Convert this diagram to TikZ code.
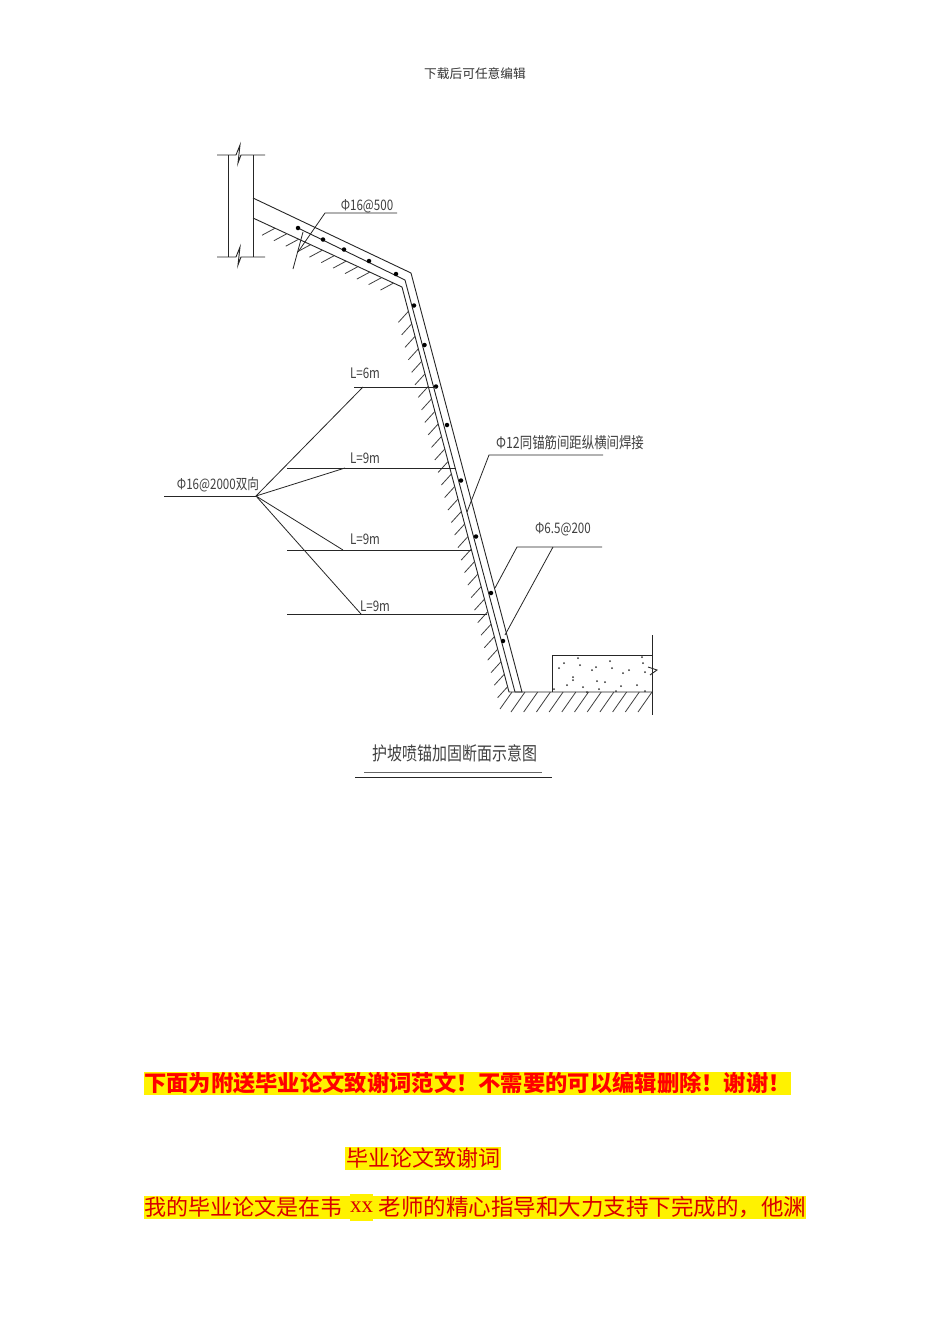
\documentclass[tikz,border=0pt]{standalone}
\usepackage{fontspec}
\setmainfont{Liberation Sans}
\newfontfamily\cjk{Noto Sans CJK SC}
\newfontfamily\latinserif{Liberation Serif}
\newfontfamily\cadfont[FakeStretch=0.8]{Noto Sans CJK SC}
\usetikzlibrary{calc}
\tikzstyle{cadline}=[draw=black!85,line width=0.9pt]
\tikzstyle{leader}=[draw=black!85,line width=0.8pt]
\tikzstyle{hatch}=[draw=black!75,line width=0.8pt]
\tikzstyle{rebar}=[circle,fill=black,inner sep=0pt,minimum size=4.5pt]
\tikzstyle{speck}=[circle,fill=black!80,inner sep=0pt,minimum size=2pt]
\tikzstyle{cadtext}=[text=black!75,inner sep=0pt,font=\cadfont\fontsize{14.5}{15}\selectfont]
\tikzstyle{redline}=[fill=yellow,text=red!85!black,inner sep=0pt,minimum height=23pt,font=\cjk\fontsize{22}{22}\selectfont]
\begin{document}
\begin{tikzpicture}[x=1pt,y=-1pt]
	\useasboundingbox[fill=white] (0,0) rectangle (950,1344);
	\node at (475,74) [inner sep=0pt,text=black!80,font=\cjk\fontsize{12.7}{13}\selectfont] (header) {下载后可任意编辑};
	% wall
	\draw[cadline] (217,155) -- (236,155) -- (240,145) -- (238,163) -- (241,155) -- (265,155);
	\draw[cadline] (217,257) -- (236,257) -- (240,247) -- (238,265) -- (241,257) -- (265,257);
	\draw[cadline] (228,155) -- (228,257);
	\draw[cadline] (253,155) -- (253,257);
	% slope
	\coordinate (outerA) at (253,198);
	\coordinate (outerB) at (411,273);
	\coordinate (outerC) at (522,692);
	\coordinate (midA) at (298,228);
	\coordinate (midB) at (405,280);
	\coordinate (midC) at (515,692);
	\coordinate (innerA) at (253,218);
	\coordinate (innerB) at (402,287);
	\coordinate (innerC) at (509,692);
	\coordinate (groundR) at (652,692);
	\draw[cadline] (outerA) -- (outerB) -- (outerC) -- (midC);
	\draw[cadline] (midA) -- (midB) -- (midC);
	\draw[cadline] (innerA) -- (innerB) -- (innerC) -- (groundR);
	% hatching
	\foreach \t in {0.148,0.2275,...,1.0}
		\draw[hatch] ($(innerA)!\t!(innerB)$) -- ++(-13,7);
	\foreach \t in {0.06,0.0909,...,1.0}
		\draw[hatch] ($(innerB)!\t!(innerC)$) -- ++(-10,11);
	\draw[hatch] (512,692) -- (500,709);
	\foreach \x in {525,537.7,...,653}
		\draw[hatch] (\x,692) -- ++(-14,20);
	% block
	\draw[cadline] (652,635) -- (652,715);
	\draw[cadline] (552,692) -- (552,655) -- (652,655);
	\draw[cadline] (648,667) -- (657,670) -- (650,675);
	\foreach \x/\y in {564/663,559/668,578/658,580/665,592/670,596/667,610/661,612/668,623/673,629/670,642/657,643/663,645/672,573/677,573/680,567/685,554/689,583/687,587/692,597/681,605/682,599/689,621/686,616/691,637/685,645/691}
		\node at (\x,\y) [speck] {};
	% bars
	\foreach \x/\y in {298/228,323/239.5,344/249.5,369/261,396/274,414/305.5,424.5/345,436/386.5,447/425,461/480.5,476/536.5,491/593,503/641}
		\node at (\x,\y) [rebar] {};
	% top label
	\node at (367,206) [cadtext] (topLabel) {Φ16@500};
	\coordinate (topA) at (397,213);
	\coordinate (topB) at (325,213);
	\coordinate (topC) at (298,252);
	\coordinate (topD) at (303,232);
	\coordinate (topE) at (293,269);
	\draw[leader] (topA) -- (topB) -- (topC);
	\draw[leader] (topD) -- (topE);
	% anchors
	\coordinate (fan) at (256,496);
	\coordinate (fanL) at (164,496);
	\coordinate (bar6L) at (354,387);
	\coordinate (bar6R) at (436,387);
	\coordinate (bar6K) at (363,387);
	\coordinate (bar9aL) at (287,468);
	\coordinate (bar9aR) at (456,468);
	\coordinate (bar9aK) at (345,468);
	\coordinate (bar9bL) at (287,550);
	\coordinate (bar9bR) at (471,550);
	\coordinate (bar9bK) at (343,550);
	\coordinate (bar9cL) at (287,614);
	\coordinate (bar9cR) at (487,614);
	\coordinate (bar9cK) at (361,614);
	\node at (218,485) [cadtext] (fanLabel) {Φ16@2000双向};
	\node at (365,373) [cadtext] (len6) {L=6m};
	\node at (365,458) [cadtext] (len9a) {L=9m};
	\node at (365,539) [cadtext] (len9b) {L=9m};
	\node at (375,606) [cadtext] (len9c) {L=9m};
	\draw[leader] (fanL) -- (fan);
	\draw[leader] (bar6L) -- (bar6R);
	\draw[leader] (bar9aL) -- (bar9aR);
	\draw[leader] (bar9bL) -- (bar9bR);
	\draw[leader] (bar9cL) -- (bar9cR);
	\draw[leader] (fan) -- (bar6K);
	\draw[leader] (fan) -- (bar9aK);
	\draw[leader] (fan) -- (bar9bK);
	\draw[leader] (fan) -- (bar9cK);
	% right labels
	\node at (570,443) [cadtext,font=\cadfont\fontsize{15.5}{16}\selectfont] (meshLabel) {Φ12同锚筋间距纵横间焊接};
	\coordinate (meshA) at (603,455);
	\coordinate (meshB) at (489,455);
	\coordinate (meshC) at (467,512);
	\draw[leader] (meshA) -- (meshB) -- (meshC);
	\node at (563,529) [cadtext] (netLabel) {Φ6.5@200};
	\coordinate (netA) at (602,547);
	\coordinate (netB) at (517,547);
	\coordinate (netC) at (495,588);
	\coordinate (netD) at (553,547);
	\coordinate (netE) at (505,635);
	\draw[leader] (netA) -- (netB) -- (netC);
	\draw[leader] (netD) -- (netE);
	% title
	\node at (455,753) [cadtext,font=\cadfont\fontsize{18.7}{20}\selectfont] (title) {护坡喷锚加固断面示意图};
	\coordinate (ruleA) at (364,772);
	\coordinate (ruleB) at (542,772);
	\coordinate (ruleC) at (355,777);
	\coordinate (ruleD) at (552,777);
	\draw[leader,black!60] (ruleA) -- (ruleB);
	\draw[leader] (ruleC) -- (ruleD);
	% text below
	\node at (467.5,1083) [redline,font=\cjk\bfseries\fontsize{22.3}{22}\selectfont,text=red,minimum width=647pt] (notice) {下面为附送毕业论文致谢词范文！不需要的可以编辑删除！谢谢！};
	\node at (423,1158) [redline,minimum width=156pt] (heading) {毕业论文致谢词};
	\node at (247,1207) [redline] (bodyA) {\makebox[206pt][l]{我的毕业论文是在韦}};
	\node at (361.5,1207) [redline,minimum width=23pt,minimum height=27pt,font=\latinserif\fontsize{23}{23}\selectfont] (bodyB) {xx};
	\node at (589.5,1207) [redline,font=\cjk\fontsize{22.5}{22}\selectfont] (bodyC) {\makebox[433pt][r]{老师的精心指导和大力支持下完成的，他渊}};
\end{tikzpicture}
\end{document}
